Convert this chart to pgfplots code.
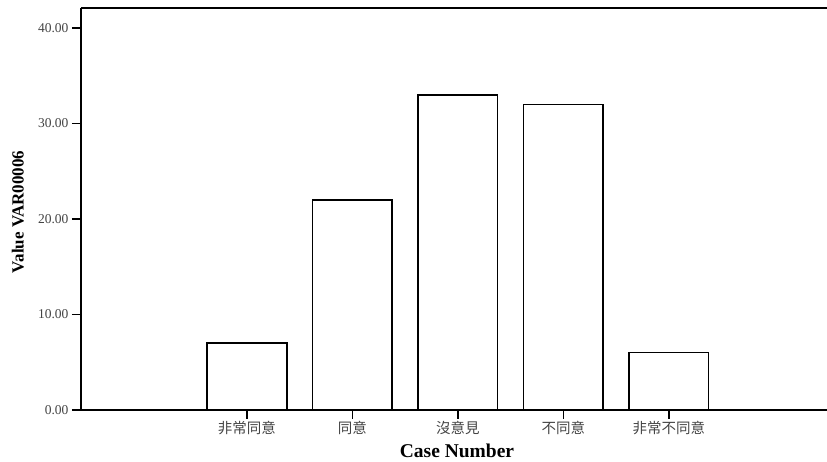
\documentclass[border=0pt]{standalone}
\usepackage{pgfplots}
\pgfplotsset{compat=1.18}
\usepackage{fontspec}
\setmainfont{Liberation Serif}
\newfontfamily\cjk{Noto Sans CJK TC}
\definecolor{ticktext}{HTML}{444444}
\begin{document}
\begin{tikzpicture}
\useasboundingbox (-81pt,-52pt) rectangle (746pt,410pt);
\begin{axis}[
  scale only axis,
  width=746pt, height=402pt,
  xmin=-1.572, xmax=5.5,
  ymin=0, ymax=42.1,
  axis x line=box,
  axis y line*=left,
  axis line style={line width=1.6pt, black},
  xtick={0,1,2,3,4},
  xticklabels={非常同意,同意,沒意見,不同意,非常不同意},
  xtick pos=bottom,
  ytick={0,10,20,30,40},
  yticklabel={\pgfmathprintnumber[fixed,fixed zerofill,precision=2]{\tick}},
  /pgf/number format/assume math mode=true,
  tick align=outside,
  major tick length=9pt,
  tick style={line width=1.5pt, black},
  xticklabel style={font=\cjk\fontsize{14.5}{16}\selectfont, text=ticktext, yshift=1pt},
  yticklabel style={font=\fontsize{13.5}{15}\selectfont, text=ticktext},
  ylabel={Value VAR00006},
  xlabel={Case Number},
  ylabel style={at={(axis description cs:-0.0845,0.4925)}, anchor=center, rotate=0, font=\bfseries\fontsize{17}{19}\selectfont},
  xlabel style={at={(axis description cs:0.504,-0.117)}, anchor=base, font=\bfseries\fontsize{19.5}{21}\selectfont},
  ybar,
  bar width=0.757,
  clip=false,
]
\addplot[draw=black, fill=white, line width=1.5pt] coordinates {(0,7) (1,22) (2,33) (3,32) (4,6)};
\end{axis}
\end{tikzpicture}
\end{document}
